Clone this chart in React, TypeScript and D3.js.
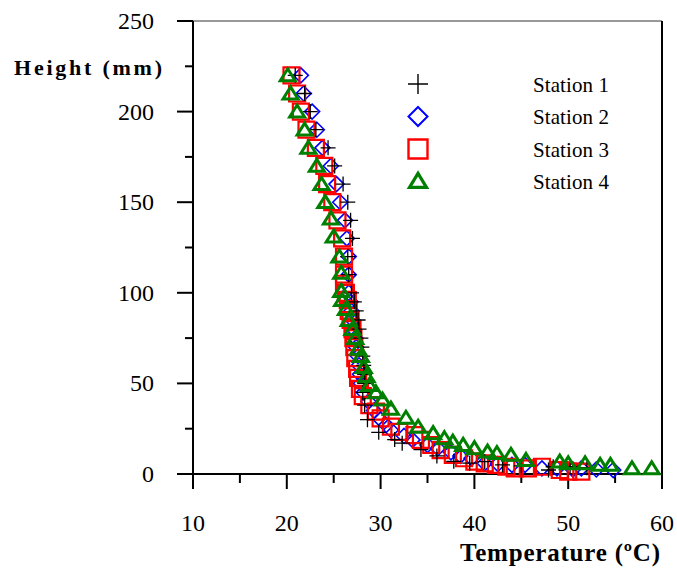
import React from 'react'
import * as d3 from 'd3'

// axis ticks
const xTicks = [10, 20, 30, 40, 50, 60]
const yTicks = [0, 50, 100, 150, 200, 250]
const xMinor = [15, 25, 35, 45, 55]
const yMinor = [25, 75, 125, 175, 225]

const stationNames = ['Station 1', 'Station 2', 'Station 3', 'Station 4']

// [temperature ºC, height mm]
const station1: [number, number][] = [
  [20.9, 220], [21.9, 210], [22.5, 200], [23.1, 190], [24.4, 180], [25.1, 170],
  [26.0, 160], [26.5, 150], [26.8, 140], [27.0, 130], [26.5, 120], [26.6, 110],
  [26.9, 100], [27.2, 95], [27.4, 90], [27.6, 85], [27.7, 80], [27.9, 75],
  [28.0, 70], [28.1, 65], [28.2, 60], [28.3, 55], [28.3, 50], [28.1, 45],
  [28.3, 38], [28.6, 30], [29.8, 23], [31.5, 19], [32.3, 17], [34.3, 13.5],
  [36.0, 10], [37.8, 7], [39.5, 6], [41.1, 6.8], [43.0, 5], [45.0, 4.5],
  [47.9, 2.2], [48.4, 4], [50.2, 4], [52.0, 3.5],
]

const station2: [number, number][] = [
  [21.5, 220], [21.8, 210], [22.7, 200], [23.2, 190], [23.8, 180], [24.7, 170],
  [25.3, 160], [25.7, 150], [26.2, 140], [26.4, 130], [26.6, 120], [26.6, 110],
  [26.6, 100], [26.8, 95], [26.9, 90], [27.0, 85], [27.1, 80], [27.3, 75],
  [27.4, 70], [27.6, 65], [27.7, 60], [27.8, 55], [27.9, 50], [28.2, 45],
  [28.7, 40], [29.3, 35], [30.0, 30], [30.6, 27], [31.1, 24.3], [32.5, 21],
  [33.4, 18.8], [35.0, 16], [36.1, 14.2], [37.5, 12], [38.5, 10], [39.7, 8.7],
  [41.1, 5.9], [42.5, 5.5], [44.0, 5.0], [45.4, 5.0], [47.2, 3.1], [48.8, 3.1],
  [50.5, 2.5], [51.4, 3.1], [53.0, 2.5], [54.8, 2.2],
]

const station3: [number, number][] = [
  [20.5, 220], [21.1, 210], [21.5, 200], [22.1, 190], [23.1, 180], [24.0, 170],
  [24.3, 160], [24.85, 150], [25.4, 140], [25.9, 130], [26.1, 120], [26.1, 110],
  [26.1, 105], [26.3, 100], [26.5, 96], [26.6, 90], [26.8, 85], [27.0, 80],
  [27.1, 75], [27.2, 70], [27.3, 64], [27.5, 58], [27.6, 53], [27.8, 47],
  [28.1, 43], [28.8, 38], [29.5, 34.4], [30.0, 30.7], [31.1, 26.1], [32.0, 23.3],
  [33.6, 21.5], [34.3, 18.8], [35.4, 16], [36.4, 13.2], [37.7, 10.5], [38.9, 8.7],
  [40.0, 6.8], [41.1, 5.9], [42.3, 5.0], [43.4, 4.0], [44.3, 3.1], [45.7, 3.1],
  [47.2, 4.0], [49.1, 2.2], [50.0, 1.3], [51.4, 1.3],
]

const station4: [number, number][] = [
  [20.1, 220], [20.4, 210], [21.1, 200], [21.9, 190], [22.3, 180], [23.2, 170],
  [23.7, 160], [24.1, 150], [24.7, 141], [25.0, 131], [25.6, 120], [25.8, 111],
  [25.8, 101], [25.9, 96], [26.3, 91], [26.6, 85], [27.0, 80], [27.3, 75],
  [27.6, 69], [27.9, 65], [28.2, 59], [28.5, 54], [28.8, 49], [29.5, 45],
  [30.2, 41], [31.1, 36], [32.7, 31], [34.0, 26], [35.6, 22.5], [36.8, 19.7],
  [37.7, 17.8], [38.8, 16], [40.0, 14.2], [41.4, 12.3], [42.4, 11.5], [43.9, 10.5],
  [45.5, 7.7], [49.1, 6.8], [50.0, 5.9], [51.8, 5.9], [53.4, 5.0], [54.5, 5.0],
  [56.8, 3.1], [58.9, 3.1],
]

const FONT = '"Liberation Serif", "Times New Roman", serif'

const plus = (s: number) => `M${-s},0H${s}M0,${-s}V${s}`
const diamond = (s: number) => `M0,${-s}L${s},0L0,${s}L${-s},0Z`
const square = (s: number) => `M${-s},${-s}H${s}V${s}H${-s}Z`
const triangle = (w: number, h: number) => `M0,${-h * 0.55}L${w},${h * 0.45}L${-w},${h * 0.45}Z`

const markers = [
  { data: station1, color: '#000000', sw: 1.3, d: plus(7.5), ld: plus(10), lsw: 1.4 },
  { data: station2, color: '#0000ff', sw: 1.6, d: diamond(7.5), ld: diamond(9.5), lsw: 2 },
  { data: station3, color: '#ff0000', sw: 2.2, d: square(8), ld: square(9.5), lsw: 2.4 },
  { data: station4, color: '#008000', sw: 3, d: triangle(7.5, 12), ld: triangle(8.5, 14), lsw: 3.2 },
]
// draw order: diamonds, squares, plus, triangles on top
const drawOrder = [1, 2, 0, 3]

export default function App() {
  const W = 677
  const H = 569
  const m = { l: 193, r: 662, t: 21, b: 474 }

  const x = d3.scaleLinear().domain([10, 60]).range([m.l, m.r])
  const y = d3.scaleLinear().domain([0, 250]).range([m.b, m.t])

  const legendX = 418
  const legendTextX = 533
  const legendY = [84, 116.5, 149, 181]

  return (
    <svg width={W} height={H} style={{ position: 'absolute', left: 0, top: 0, background: '#fff' }}
      fontFamily={FONT}>
      <rect width={W} height={H} fill="#fff" />

      {/* frame */}
      <line x1={m.l} x2={m.r} y1={m.t} y2={m.t} stroke="#333" strokeWidth={1} />
      <line x1={m.r} x2={m.r} y1={m.t} y2={m.b} stroke="#000" strokeWidth={2} />

      {/* y axis */}
      <line x1={m.l} x2={m.l} y1={m.t} y2={m.b} stroke="#000" strokeWidth={2} />
      {yTicks.map(t => (
        <g key={'y' + t}>
          <line x1={m.l - 16} x2={m.l} y1={y(t)} y2={y(t)} stroke="#000" strokeWidth={2} />
          <text x={154} y={y(t) + 8} textAnchor="end" fontSize={24} fill="#000">{t}</text>
        </g>
      ))}
      {yMinor.map(t => (
        <line key={'ym' + t} x1={m.l - 8} x2={m.l} y1={y(t)} y2={y(t)} stroke="#000" strokeWidth={2} />
      ))}

      {/* x axis */}
      <line x1={m.l} x2={m.r} y1={m.b} y2={m.b} stroke="#000" strokeWidth={2} />
      {xTicks.map(t => (
        <g key={'x' + t}>
          <line x1={x(t)} x2={x(t)} y1={m.b} y2={m.b + 15} stroke="#000" strokeWidth={2} />
          <text x={x(t)} y={531} textAnchor="middle" fontSize={24} fill="#000">{t}</text>
        </g>
      ))}
      {xMinor.map(t => (
        <line key={'xm' + t} x1={x(t)} x2={x(t)} y1={m.b} y2={m.b + 9} stroke="#000" strokeWidth={2} />
      ))}

      {/* axis titles */}
      <text x={14} y={75} fontSize={22} fontWeight="bold" textLength={148} lengthAdjust="spacing" fill="#000">
        Height (mm)
      </text>
      <text x={460} y={561} fontSize={25} fontWeight="bold" textLength={200} lengthAdjust="spacing" fill="#000">
        Temperature (ºC)
      </text>

      {/* data */}
      {drawOrder.map(i => {
        const s = markers[i]
        return (
          <g key={'s' + i}>
            {s.data.map(([t, h], j) => (
              <path key={j} d={s.d} transform={`translate(${x(t)},${y(h)})`}
                fill="none" stroke={s.color} strokeWidth={s.sw} />
            ))}
          </g>
        )
      })}

      {/* legend */}
      {markers.map((s, i) => (
        <g key={'l' + i}>
          <path d={s.ld} transform={`translate(${legendX},${legendY[i]})`}
            fill="none" stroke={s.color} strokeWidth={s.lsw} />
          <text x={legendTextX} y={legendY[i] + 7.5} fontSize={21} textLength={76}
            lengthAdjust="spacing" fill="#000">{stationNames[i]}</text>
        </g>
      ))}
    </svg>
  )
}
